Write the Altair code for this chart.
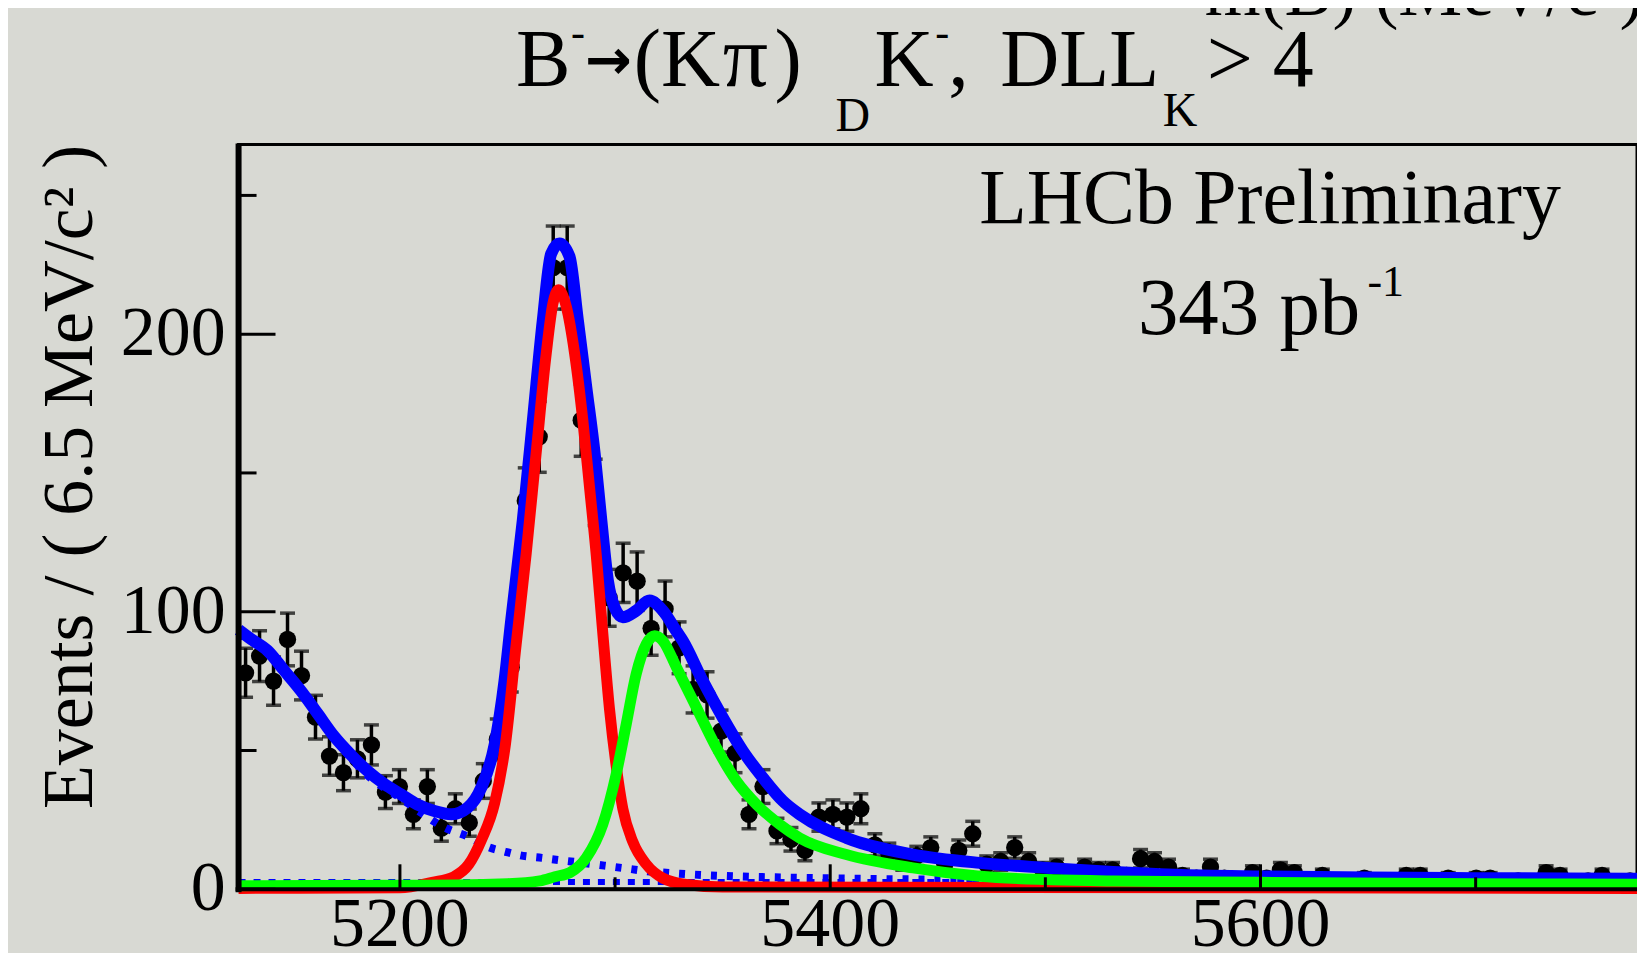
import altair as alt
import pandas as pd

# ---------------- data ----------------
BIN_LO = 5125.0
BIN_W = 6.5
COUNTS = [78, 84, 75, 90, 77, 62, 48, 42, 47, 52,
          35, 37, 27, 37, 22, 29, 24, 39, 54, 80,
          140, 163, 224, 224, 169, 143, 105, 114, 111, 94,
          101, 87, 72, 70, 57, 49, 27, 37, 21, 18,
          14, 26, 27, 26, 29, 16, 13, 10, 12, 15,
          9, 14, 20, 9, 10, 15, 10, 7, 8, 6,
          8, 7, 7, 5, 11, 10, 8, 5, 4, 8,
          4, 3, 6, 4, 7, 6, 3, 5, 3, 2,
          4, 3, 3, 5, 5, 3, 4, 2, 4, 4,
          2, 3, 2, 6, 5, 2, 3, 5, 2, 3]
MASS = [BIN_LO + BIN_W * (i + 0.5) for i in range(len(COUNTS))]

TOTAL_M = [5125, 5131, 5138.5, 5146, 5154, 5162, 5169.5, 5177, 5185, 5193,
           5200.5, 5208, 5216, 5224, 5231.5, 5237.8, 5244, 5248.6, 5251.7,
           5257.1, 5261.8, 5266.4, 5270.3, 5274.2, 5278.8, 5282.7, 5286.6,
           5290.5, 5293.6, 5296.7, 5299.8, 5303.6, 5309.9, 5316, 5322.2,
           5328.5, 5331.5, 5340.8, 5350.1, 5359.4, 5368.7, 5378, 5385.8,
           5407.5, 5438.5, 5469.5, 5500.6, 5531.5, 5560, 5600, 5650, 5700, 5775]
TOTAL_V = [93.5, 90, 86, 79, 71.5, 63, 55, 48.6, 42.6, 37.8,
           34.2, 30.6, 28.2, 27, 29.4, 36.6, 52, 75, 96.8,
           132.9, 169, 205, 229, 232.7, 228, 205, 181,
           157, 133, 111, 101.5, 98, 100.4, 104, 100.4,
           93, 89.5, 75, 61.8, 49.8, 40.2, 31.8, 27,
           18.5, 12.5, 9.5, 7.7, 6.2, 5.2, 4.6, 4.2, 4.0, 3.8]

SIG_M = [5125, 5200, 5215, 5225, 5232, 5238, 5244, 5249, 5254, 5258.7,
         5263.3, 5268, 5271.1, 5273.7, 5277.3, 5281.2, 5285, 5288.1, 5291.3,
         5294, 5297.4, 5300.6, 5303.6, 5308.3, 5314.5, 5322.2, 5333, 5350, 5775]
SIG_V = [0.3, 0.5, 2.5, 4.5, 9, 18, 31, 52, 88, 121,
         157, 193, 211, 216, 210, 193, 169, 145, 120,
         95, 65, 44, 29, 17, 9, 4, 1.7, 0.8, 0.3]

MISID_M = [5125, 5200, 5250, 5265, 5272, 5279, 5286.6, 5294.3, 5300.5, 5305.2,
           5309.8, 5314.5, 5318.4, 5322.2, 5328.5, 5337.8, 5347.1, 5356.4,
           5365.7, 5376.5, 5385.8, 5407.5, 5438.5, 5469.5, 5500.6, 5531.5,
           5600, 5700, 5775]
MISID_V = [1.3, 1.4, 2, 3, 4.5, 6, 11.3, 23.4, 41.4, 59.5,
           77.5, 88.3, 91.3, 89.5, 80, 65.5, 51, 39,
           30.6, 23.4, 18.5, 12.5, 7.7, 4.7, 3.5, 3.0,
           2.5, 2.0, 1.8]

BKG_M = [5125, 5140, 5155, 5170, 5185, 5200, 5210, 5220, 5233, 5241, 5249,
         5256, 5266, 5274, 5285, 5295, 5305, 5315, 5330, 5350, 5380, 5420,
         5500, 5600, 5775]
BKG_V = [92, 84, 70, 54, 41, 33, 27.5, 22.5, 18.5, 15.2, 13.5,
         12.2, 11.3, 10.5, 9.5, 8.5, 7.5, 6.5, 5.6, 4.8, 4.2, 3.7,
         3.3, 3.0, 2.8]

COMB_M = [5125, 5775]
COMB_V = [2.6, 2.6]

Y_MAJOR = [0, 100, 200]
Y_LABELS = ["0", "100", "200"]
Y_MINOR = [50, 150, 250]
X_MAJOR = [5200, 5400, 5600]
X_LABELS = ["5200", "5400", "5600"]
X_MINOR = [5300, 5500, 5700]

# ---------------- style ----------------
FONT = "Liberation Serif"
BG = "#d8d9d3"
W, H = 1401, 746

xs = alt.Scale(domain=[5125, 5775], nice=False, zero=False)
ys = alt.Scale(domain=[0, 268.3], nice=False, zero=False)

hist = pd.DataFrame({"m": MASS, "n": COUNTS})
base = alt.Chart(hist).transform_calculate(
    lo="datum.n - sqrt(datum.n)", hi="datum.n + sqrt(datum.n)"
)

xenc = alt.X("m:Q", scale=xs, axis=None)

err = base.mark_rule(color="black", strokeWidth=3.5).encode(
    x=xenc, y=alt.Y("lo:Q", scale=ys, axis=None), y2="hi:Q")
cap_hi = base.mark_tick(orient="horizontal", color="black", thickness=3.5, size=15).encode(
    x=xenc, y=alt.Y("hi:Q", scale=ys, axis=None))
cap_lo = base.mark_tick(orient="horizontal", color="black", thickness=3.5, size=15).encode(
    x=xenc, y=alt.Y("lo:Q", scale=ys, axis=None))
pts = base.mark_circle(color="black", size=300, opacity=1).encode(
    x=xenc, y=alt.Y("n:Q", scale=ys, axis=None))


def curve(ms, vs, color, width, dash=None):
    df = pd.DataFrame({"m": ms, "v": vs})
    kw = dict(color=color, strokeWidth=width, interpolate="monotone", strokeCap="butt")
    if dash:
        kw["strokeDash"] = dash
    return alt.Chart(df).mark_line(**kw).encode(
        x=alt.X("m:Q", scale=xs, axis=None), y=alt.Y("v:Q", scale=ys, axis=None))


total = curve(TOTAL_M, TOTAL_V, "#0000ff", 12)
bkg = curve(BKG_M, BKG_V, "#0000ff", 8, [6, 10])
comb = curve(COMB_M, COMB_V, "#0000ff", 6, [7, 8])
sig = curve(SIG_M, SIG_V, "#ff0000", 11)
misid = curve(MISID_M, MISID_V, "#00ff00", 11)

# axis lines (left / bottom, heavier than the frame)
ax_left = alt.Chart(pd.DataFrame({"k": [0]})).mark_rule(color="black", strokeWidth=6).encode(
    x=alt.value(0), y=alt.value(-1), y2=alt.value(H + 3))
ax_bottom = alt.Chart(pd.DataFrame({"k": [0]})).mark_rule(color="black", strokeWidth=4).encode(
    x=alt.value(-3), x2=alt.value(W), y=alt.value(H))

# inward-pointing ticks
yt_major = alt.Chart(pd.DataFrame({"v": Y_MAJOR})).mark_rule(color="black", strokeWidth=3).encode(
    y=alt.Y("v:Q", scale=ys, axis=None), x=alt.value(0), x2=alt.value(37))
yt_minor = alt.Chart(pd.DataFrame({"v": Y_MINOR})).mark_rule(color="black", strokeWidth=3).encode(
    y=alt.Y("v:Q", scale=ys, axis=None), x=alt.value(0), x2=alt.value(18))
xt_major = alt.Chart(pd.DataFrame({"v": X_MAJOR})).mark_rule(color="black", strokeWidth=3).encode(
    x=alt.X("v:Q", scale=xs, axis=None), y=alt.value(H), y2=alt.value(H - 25))
xt_minor = alt.Chart(pd.DataFrame({"v": X_MINOR})).mark_rule(color="black", strokeWidth=3).encode(
    x=alt.X("v:Q", scale=xs, axis=None), y=alt.value(H), y2=alt.value(H - 12))

# tick labels
ylab = alt.Chart(pd.DataFrame({"v": Y_MAJOR, "t": Y_LABELS})).mark_text(
    font=FONT, fontSize=70, color="black", align="right", baseline="middle"
).encode(y=alt.Y("v:Q", scale=ys, axis=None), x=alt.value(-13), text="t:N")
xlab = alt.Chart(pd.DataFrame({"v": X_MAJOR, "t": X_LABELS})).mark_text(
    font=FONT, fontSize=70, color="black", align="center", baseline="alphabetic"
).encode(x=alt.X("v:Q", scale=xs, axis=None), y=alt.value(H + 57), text="t:N")


def label(txt, x, y, size, angle=0, align="left", weight="normal", font=FONT):
    return alt.Chart(pd.DataFrame({"t": [txt]})).mark_text(
        font=font, fontSize=size, color="black", align=align, baseline="alphabetic",
        angle=angle, fontWeight=weight
    ).encode(text="t:N", x=alt.value(x), y=alt.value(y))


texts = [
    # title  B- -> (K pi)_D K-, DLL_K > 4
    label("B", 278, -59, 82),
    label("-", 333, -99, 42),
    label("\u2192", 347, -66, 56, weight="bold", font="DejaVu Sans"),
    label("(K", 396, -59, 82),
    label("\u03c0", 485, -59, 90),
    label(")", 537, -59, 82),
    label("D", 598, -14, 48),
    label("K", 637, -59, 82),
    label("-", 698, -99, 42),
    label(",", 711, -59, 82),
    label("DLL", 763, -59, 82),
    label("K", 926, -19, 48),
    label(">", 970, -59, 82),
    label("4", 1036, -59, 82),
    # in-plot annotations
    label("LHCb Preliminary", 742, 79, 78),
    label("343 pb", 901, 190, 81),
    label("-1", 1131, 152, 44),
    # y-axis title
    label("Events / ( 6.5 MeV/c\u00b2 )", -147, 333, 72, angle=270, align="center"),
    # cut-off label of the panel above
    label("m(B) (MeV/c\u00b2)", 968, -130, 72),
]

chart = alt.layer(
    pts, err, cap_hi, cap_lo, total, bkg, comb, sig, misid,
    ax_left, ax_bottom, yt_major, yt_minor, xt_major, xt_minor, ylab, xlab, *texts
).properties(
    width=W, height=H,
    autosize=alt.AutoSizeParams(type="none"),
    padding={"left": 231, "top": 136, "right": 0, "bottom": 63},
    background=BG,
).configure_view(stroke="black", strokeWidth=3)

chart.save("out.html", embed_options={"renderer": "svg", "actions": False})
